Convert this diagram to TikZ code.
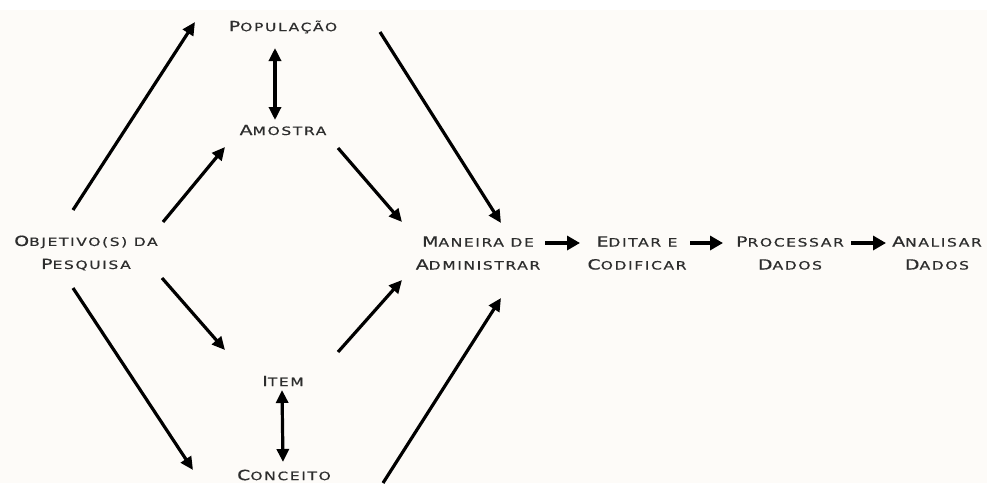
\documentclass[tikz,border=0pt]{standalone}
\usepackage{fontspec}
\usetikzlibrary{arrows.meta}
\newfontfamily\cg[FakeStretch=1.35,LetterSpace=14,FakeBold=0.6]{DejaVu Sans}
\newcommand\cgw[2]{{\fontsize{14}{23}\selectfont #1}{\fontsize{11.5}{23}\selectfont #2}}
\definecolor{bgc}{RGB}{253,251,248}
\definecolor{txt}{RGB}{45,45,45}
\tikzset{
  lbl/.style={inner sep=0pt, align=center, text=txt, font=\cg\fontsize{11.5}{23}\selectfont},
  arr/.style={line width=3.2pt, -{Triangle[length=13pt,width=12pt]}},
  harr/.style={line width=4pt, -{Triangle[length=13pt,width=14pt]}},
  darr/.style={line width=3.2pt, {Triangle[length=13pt,width=12pt]}-{Triangle[length=13pt,width=12pt]}}
}
\begin{document}
\begin{tikzpicture}[x=1pt,y=-1pt]
\useasboundingbox (0,0) rectangle (987,483);
\fill[bgc] (0,0) rectangle (987,483);
\fill[white] (0,0) rectangle (987,10);
% nodes
\node[lbl] (obj) at (86,253) {\cgw{O}{BJETIVO(S) DA}\\\cgw{P}{ESQUISA}};
\node[lbl] (pop) at (283,27) {\cgw{P}{OPULAÇÃO}};
\node[lbl] (ams) at (283,130) {\cgw{A}{MOSTRA}};
\node[lbl] (item) at (283,381) {\cgw{I}{TEM}};
\node[lbl] (conc) at (284,475) {\cgw{C}{ONCEITO}};
\node[lbl] (man) at (478,253) {\cgw{M}{ANEIRA DE}\\\cgw{A}{DMINISTRAR}};
\node[lbl] (edit) at (637,253) {\cgw{E}{DITAR E}\\\cgw{C}{ODIFICAR}};
\node[lbl] (proc) at (790,253) {\cgw{P}{ROCESSAR}\\\cgw{D}{ADOS}};
\node[lbl] (anal) at (937,253) {\cgw{A}{NALISAR}\\\cgw{D}{ADOS}};
% diagonal arrows
\draw[arr] ([shift={(-13,-43)}]obj.center) -- ([shift={(-88,-5)}]pop.center);
\draw[arr] ([shift={(77,-31)}]obj.center) -- ([shift={(-58,17)}]ams.center);
\draw[arr] ([shift={(76,25)}]obj.center) -- ([shift={(-58,-31)}]item.center);
\draw[arr] ([shift={(-13,35)}]obj.center) -- ([shift={(-91,-5)}]conc.center);
\draw[arr] ([shift={(97,5)}]pop.center) -- ([shift={(23,-30)}]man.center);
\draw[arr] ([shift={(55,18)}]ams.center) -- ([shift={(-76,-31)}]man.center);
\draw[arr] ([shift={(55,-29)}]item.center) -- ([shift={(-76,27)}]man.center);
\draw[arr] ([shift={(99,8)}]conc.center) -- ([shift={(23,45)}]man.center);
% vertical double arrows
\draw[darr] ([shift={(-8,21)}]pop.center) -- ([shift={(-8,-10)}]ams.center);
\draw[darr] ([shift={(-1,9)}]item.center) -- ([shift={(-1,-13)}]conc.center);
% horizontal arrows
\draw[harr] ([shift={(67,-10)}]man.center) -- ([shift={(-57,-10)}]edit.center);
\draw[harr] ([shift={(53,-10)}]edit.center) -- ([shift={(-67,-10)}]proc.center);
\draw[harr] ([shift={(61,-10)}]proc.center) -- ([shift={(-51,-10)}]anal.center);
\end{tikzpicture}
\end{document}
